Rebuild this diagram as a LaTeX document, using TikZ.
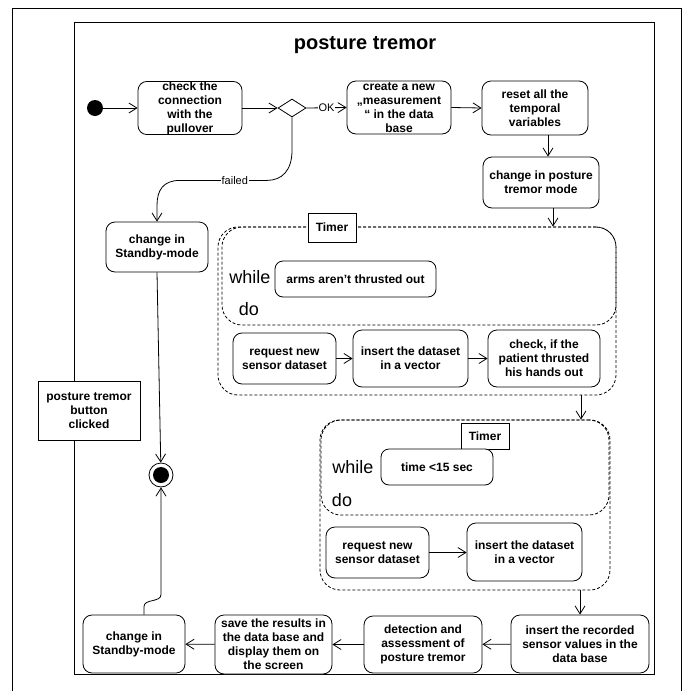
\documentclass[tikz,border=0pt]{standalone}
\usepackage{fontspec}
\setmainfont{Liberation Sans}
\usetikzlibrary{arrows.meta,shapes.geometric}
\tikzset{
  act/.style={draw, rounded corners=9pt, fill=white, align=center, inner sep=0pt,
    font=\bfseries\fontsize{12}{14}\selectfont},
  sz/.style 2 args={minimum width=#1pt, minimum height=#2pt},
  region/.style={draw, dash pattern=on 3pt off 2pt, rounded corners=20pt, inner sep=0pt},
  tag/.style={draw, fill=white, align=center, inner sep=0pt,
    font=\bfseries\fontsize{12}{14}\selectfont},
  flow/.style={-{Straight Barb[length=8pt,width=10pt]}},
  guard/.style={fill=white, inner sep=1pt, font=\fontsize{11}{13}\selectfont},
  kw/.style={inner sep=0pt, font=\fontsize{18}{21}\selectfont},
}
\begin{document}
\begin{tikzpicture}[x=1pt, y=-1pt, line width=0.8pt]
  \useasboundingbox (0,0) rectangle (688,691);
  \draw (12,691) -- (12,8) -- (681,8) -- (681,691);
  \draw (74,22) rectangle (654,674);
  \node[font=\bfseries\fontsize{20}{24}\selectfont] (title) at (365,45) {posture tremor};

  % top row
  \node[circle, fill=black, minimum size=16pt, inner sep=0pt] (start) at (95,108) {};
  \node[act, sz={104}{52}] (check) at (190,108) {check the\\connection\\with the\\pullover};
  \node[diamond, draw, fill=white, minimum width=28pt, minimum height=18pt, inner sep=0pt] (dec) at (292,108) {};
  \node[act, sz={104}{53}] (create) at (399,107.5) {create a new\\„measurement\\“ in the data\\base};
  \node[act, sz={106}{54}] (reset) at (535,108) {reset all the\\temporal\\variables};
  \node[act, sz={116}{51}] (mode) at (541,182.5) {change in posture\\tremor mode};
  \node[act, sz={102}{50}] (standbyA) at (157,247) {change in\\Standby-mode};

  % first loop
  \node[region, sz={398}{168}] (loopA) at (417,311) {};
  \node[region, sz={394}{98}] (whileA) at (419,276) {};
  \node[tag, sz={48}{29}] (timerA) at (332,227.5) {Timer};
  \node[kw] (whileKwA) at (250,277) {while};
  \node[kw] (doKwA) at (249,309) {do};
  \node[act, rounded corners=8pt, sz={161}{36}] (arms) at (355.5,279) {arms aren’t thrusted out};
  \node[act, sz={103}{51}] (requestA) at (284.5,358.5) {request new\\sensor dataset};
  \node[act, sz={115}{57}] (insertA) at (410.5,358.5) {insert the dataset\\in a vector};
  \node[act, sz={112}{57}] (hands) at (544,358.5) {check, if the\\patient thrusted\\his hands out};

  % second loop
  \node[region, sz={290}{170}] (loopB) at (465,505) {};
  \node[region, sz={288}{95}] (whileB) at (465,467.5) {};
  \node[tag, sz={48}{26}] (timerB) at (485,436) {Timer};
  \node[kw] (whileKwB) at (353,467) {while};
  \node[kw] (doKwB) at (342,500) {do};
  \node[act, rounded corners=8pt, sz={112}{36}] (timeB) at (437,467) {time <15 sec};
  \node[act, sz={103}{51}] (requestB) at (377.5,552.5) {request new\\sensor dataset};
  \node[act, sz={115}{58}] (insertB) at (524.5,552) {insert the dataset\\in a vector};

  % bottom row
  \node[act, sz={138}{58}] (record) at (580,644) {insert the recorded\\sensor values in the\\data base};
  \node[act, sz={118}{57}] (detect) at (423,644.5) {detection and\\assessment of\\posture tremor};
  \node[act, sz={117}{59}] (save) at (273.5,644.5) {save the results in\\the data base and\\display them on\\the screen};
  \node[act, sz={102}{58}] (standbyB) at (134,644) {change in\\Standby-mode};

  \node[circle, draw, fill=white, minimum size=24pt, inner sep=0pt] (final) at (161,475) {};
  \fill (final) circle (8pt);
  \node[tag, sz={102}{59}] (button) at (89,410.5) {posture tremor\\button\\clicked};

  \draw[flow] (start) -- (start -| check.west);
  \draw[flow] (check.east) -- (dec.west);
  \draw[flow] (dec.east) -- node[guard] {OK} (create.west);
  \draw[flow] (create.east) -- (reset.west);
  \draw[flow] ([xshift=13pt]reset.south) -- ([xshift=13pt]reset.south |- mode.north);
  \draw[flow] ([xshift=12pt]mode.south) -- ([xshift=12pt]mode.south |- loopA.north);
  \draw[flow] (dec.south) -- ++(0,33) .. controls +(0,20) and +(15,0) .. ++(-25,30)
    -- node[guard, pos=0.37] {failed} ++(-87,0)
    .. controls +(-17,0) and +(0,-15) .. ++(-23,25) -- (standbyA.north);
  \draw[flow] (standbyA.south) -- (final);
  \draw[flow] (requestA) -- (insertA);
  \draw[flow] (insertA) -- (hands);
  \draw[flow] ([xshift=164pt]loopA.south) -- ([xshift=164pt]loopA.south |- loopB.north);
  \draw[flow] (requestB.east) -- (requestB.east -| insertB.west);
  \draw[flow] (record.north |- loopB.south) -- (record.north);
  \draw[flow] (record) -- (detect);
  \draw[flow] (detect) -- (save);
  \draw[flow] (save) -- (standbyB);
  \draw[flow] ([xshift=10pt]standbyB.north) -- ++(0,-8) .. controls +(0,-8) and +(0,8) .. ++(17,-12) -- (final);
\end{tikzpicture}
\end{document}
